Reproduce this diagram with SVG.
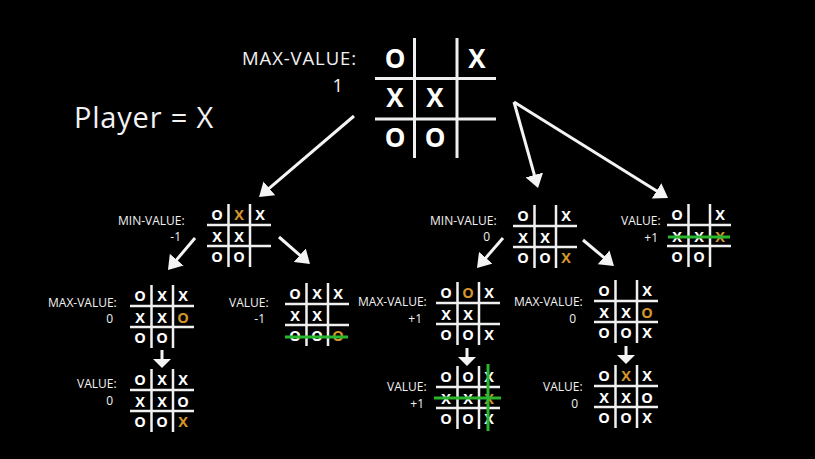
<svg xmlns="http://www.w3.org/2000/svg" xmlns:xlink="http://www.w3.org/1999/xlink" width="815" height="459" viewBox="0 0 815 459">
<style>
  .lbl { font-family: "Open Sans", "Noto Sans", sans-serif; fill: #f2f2f2; font-size: 12px; }
  .lbl-big { font-family: "Open Sans", "Noto Sans", sans-serif; fill: #f2f2f2; font-size: 18.5px; letter-spacing: 0.9px; }
  .title { font-family: "Open Sans", "Noto Sans", sans-serif; fill: #f2f2f2; font-size: 29px; letter-spacing: 0.8px; }
  .num { text-anchor: end; }
  .g { font-family: "Open Sans", "Noto Sans", sans-serif; font-weight: bold; fill: #ffffff; font-size: 14.5px; text-anchor: middle; }
  .gl { font-family: "Open Sans", "Noto Sans", sans-serif; font-weight: bold; fill: #ffffff; font-size: 26px; text-anchor: middle; }
  .hot { fill: #d4952b; }
  .gridline { stroke: #f0f0f0; stroke-width: 2.5; fill: none; }
  .gridline-l { stroke: #f0f0f0; stroke-width: 3; fill: none; }
  .win { stroke: #2ab52e; stroke-width: 3; fill: none; }
  .arrow { stroke: #f4f4f4; stroke-width: 3; fill: none; marker-end: url(#head); }
  .arrow-d { stroke: #f4f4f4; stroke-width: 3; fill: none; marker-end: url(#headd); }
</style>
<defs>
  <marker id="head" viewBox="0 0 4.5 6" markerWidth="4.5" markerHeight="6" refX="1.5" refY="3" orient="auto" markerUnits="strokeWidth">
    <path d="M0,0 L4.5,3 L0,6 z" fill="#f4f4f4"/>
  </marker>
  <marker id="headd" viewBox="0 0 3 6" markerWidth="3" markerHeight="6" refX="1" refY="3" orient="auto" markerUnits="strokeWidth">
    <path d="M0,0 L3,3 L0,6 z" fill="#f4f4f4"/>
  </marker>
  <g id="grid-s">
    <line class="gridline" x1="21.5" y1="0" x2="21.5" y2="63"/>
    <line class="gridline" x1="43" y1="0" x2="43" y2="63"/>
    <line class="gridline" x1="0" y1="21" x2="64" y2="21"/>
    <line class="gridline" x1="0" y1="42" x2="64" y2="42"/>
  </g>
  <g id="grid-l">
    <line class="gridline-l" x1="39.5" y1="0" x2="39.5" y2="120"/>
    <line class="gridline-l" x1="82" y1="0" x2="82" y2="120"/>
    <line class="gridline-l" x1="0" y1="40.5" x2="121" y2="40.5"/>
    <line class="gridline-l" x1="0" y1="81" x2="121" y2="81"/>
  </g>
</defs>
<rect x="0" y="0" width="815" height="459" fill="#000000"/>

<text id="player" class="title" x="74" y="128">Player = X</text>

<g id="connectors">
  <line class="arrow" x1="354" y1="116" x2="265.9" y2="191.2"/>
  <line class="arrow" x1="514" y1="102" x2="535.6" y2="179.3"/>
  <line class="arrow" x1="514" y1="102" x2="660.4" y2="193.2"/>
  <line class="arrow" x1="195" y1="238" x2="173.8" y2="263.1"/>
  <line class="arrow" x1="279" y1="237" x2="303.2" y2="258.1"/>
  <line class="arrow" x1="503" y1="238" x2="482.9" y2="261.2"/>
  <line class="arrow" x1="583" y1="240" x2="607.1" y2="260.2"/>
  <line class="arrow-d" x1="162" y1="350" x2="162" y2="362"/>
  <line class="arrow-d" x1="467" y1="348" x2="467" y2="360"/>
  <line class="arrow-d" x1="626" y1="346" x2="626" y2="358"/>
</g>

<g id="root">
  <text class="lbl-big" x="242" y="65">MAX-VALUE:</text>
  <text class="lbl-big num" x="344" y="92">1</text>
  <use xlink:href="#grid-l" x="375" y="38"/>
  <text class="gl" x="395" y="68.3">O</text>
  <text class="gl" x="477" y="68.3">X</text>
  <text class="gl" x="395" y="107.3">X</text>
  <text class="gl" x="435" y="107.3">X</text>
  <text class="gl" x="395" y="147.3">O</text>
  <text class="gl" x="435" y="147.3">O</text>
</g>

<g id="min-left">
  <text class="lbl" x="118" y="224.5">MIN-VALUE:</text>
  <text class="lbl num" x="181" y="241">-1</text>
  <use xlink:href="#grid-s" x="207" y="204"/>
  <text class="g" x="217" y="219.5">O</text>
  <text class="g hot" x="239" y="219.5">X</text>
  <text class="g" x="260" y="219.5">X</text>
  <text class="g" x="217" y="241.5">X</text>
  <text class="g" x="239" y="241.5">X</text>
  <text class="g" x="217" y="262.3">O</text>
  <text class="g" x="239" y="262.3">O</text>
</g>

<g id="max-left-0">
  <text class="lbl" x="48" y="306.5">MAX-VALUE:</text>
  <text class="lbl num" x="113" y="323">0</text>
  <use xlink:href="#grid-s" x="130" y="285"/>
  <text class="g" x="140" y="300.5">O</text>
  <text class="g" x="162" y="300.5">X</text>
  <text class="g" x="183" y="300.5">X</text>
  <text class="g" x="140" y="322.5">X</text>
  <text class="g" x="162" y="322.5">X</text>
  <text class="g hot" x="183" y="322.5">O</text>
  <text class="g" x="140" y="343.3">O</text>
  <text class="g" x="162" y="343.3">O</text>
</g>

<g id="value-left-m1">
  <text class="lbl" x="229" y="306.5">VALUE:</text>
  <text class="lbl num" x="265" y="323">-1</text>
  <use xlink:href="#grid-s" x="285" y="283"/>
  <text class="g" x="295" y="298.5">O</text>
  <text class="g" x="317" y="298.5">X</text>
  <text class="g" x="338" y="298.5">X</text>
  <text class="g" x="295" y="320.5">X</text>
  <text class="g" x="317" y="320.5">X</text>
  <text class="g" x="295" y="341.3">O</text>
  <text class="g" x="317" y="341.3">O</text>
  <text class="g hot" x="338" y="341.3">O</text>
  <line class="win" x1="285" y1="337" x2="348" y2="337"/>
</g>

<g id="value-left-0">
  <text class="lbl" x="77" y="388">VALUE:</text>
  <text class="lbl num" x="113" y="405">0</text>
  <use xlink:href="#grid-s" x="130" y="369"/>
  <text class="g" x="140" y="384.5">O</text>
  <text class="g" x="162" y="384.5">X</text>
  <text class="g" x="183" y="384.5">X</text>
  <text class="g" x="140" y="406.5">X</text>
  <text class="g" x="162" y="406.5">X</text>
  <text class="g" x="183" y="406.5">O</text>
  <text class="g" x="140" y="427.3">O</text>
  <text class="g" x="162" y="427.3">O</text>
  <text class="g hot" x="183" y="427.3">X</text>
</g>

<g id="min-mid">
  <text class="lbl" x="430" y="224.5">MIN-VALUE:</text>
  <text class="lbl num" x="490" y="241">0</text>
  <use xlink:href="#grid-s" x="513" y="205"/>
  <text class="g" x="523" y="220.5">O</text>
  <text class="g" x="566" y="220.5">X</text>
  <text class="g" x="523" y="242.5">X</text>
  <text class="g" x="545" y="242.5">X</text>
  <text class="g" x="523" y="263.3">O</text>
  <text class="g" x="545" y="263.3">O</text>
  <text class="g hot" x="566" y="263.3">X</text>
</g>

<g id="value-right-p1">
  <text class="lbl" x="621" y="225">VALUE:</text>
  <text class="lbl num" x="658" y="242">+1</text>
  <use xlink:href="#grid-s" x="667" y="204"/>
  <text class="g" x="677" y="219.5">O</text>
  <text class="g" x="720" y="219.5">X</text>
  <text class="g" x="677" y="241.5">X</text>
  <text class="g" x="699" y="241.5">X</text>
  <text class="g hot" x="720" y="241.5">X</text>
  <text class="g" x="677" y="262.3">O</text>
  <text class="g" x="699" y="262.3">O</text>
  <line class="win" x1="668" y1="237" x2="730" y2="237"/>
</g>

<g id="max-mid-p1">
  <text class="lbl" x="358" y="306">MAX-VALUE:</text>
  <text class="lbl num" x="422" y="323">+1</text>
  <use xlink:href="#grid-s" x="436" y="282"/>
  <text class="g" x="446" y="297.5">O</text>
  <text class="g hot" x="468" y="297.5">O</text>
  <text class="g" x="489" y="297.5">X</text>
  <text class="g" x="446" y="319.5">X</text>
  <text class="g" x="468" y="319.5">X</text>
  <text class="g" x="446" y="340.3">O</text>
  <text class="g" x="468" y="340.3">O</text>
  <text class="g" x="489" y="340.3">X</text>
</g>

<g id="max-mid-0">
  <text class="lbl" x="514" y="306">MAX-VALUE:</text>
  <text class="lbl num" x="576" y="323">0</text>
  <use xlink:href="#grid-s" x="594" y="280"/>
  <text class="g" x="604" y="295.5">O</text>
  <text class="g" x="647" y="295.5">X</text>
  <text class="g" x="604" y="317.5">X</text>
  <text class="g" x="626" y="317.5">X</text>
  <text class="g hot" x="647" y="317.5">O</text>
  <text class="g" x="604" y="338.3">O</text>
  <text class="g" x="626" y="338.3">O</text>
  <text class="g" x="647" y="338.3">X</text>
</g>

<g id="value-mid-p1">
  <text class="lbl" x="387" y="391">VALUE:</text>
  <text class="lbl num" x="424" y="408">+1</text>
  <use xlink:href="#grid-s" x="436" y="366"/>
  <text class="g" x="446" y="381.5">O</text>
  <text class="g" x="468" y="381.5">O</text>
  <text class="g" x="489" y="381.5">X</text>
  <text class="g" x="446" y="403.5">X</text>
  <text class="g" x="468" y="403.5">X</text>
  <text class="g hot" x="489" y="403.5">X</text>
  <text class="g" x="446" y="424.3">O</text>
  <text class="g" x="468" y="424.3">O</text>
  <text class="g" x="489" y="424.3">X</text>
  <line class="win" x1="434" y1="398" x2="501" y2="398"/>
  <line class="win" x1="488" y1="364" x2="488" y2="431"/>
</g>

<g id="value-right-0">
  <text class="lbl" x="543" y="391">VALUE:</text>
  <text class="lbl num" x="578" y="408">0</text>
  <use xlink:href="#grid-s" x="594" y="365"/>
  <text class="g" x="604" y="380.5">O</text>
  <text class="g hot" x="626" y="380.5">X</text>
  <text class="g" x="647" y="380.5">X</text>
  <text class="g" x="604" y="402.5">X</text>
  <text class="g" x="626" y="402.5">X</text>
  <text class="g" x="647" y="402.5">O</text>
  <text class="g" x="604" y="423.3">O</text>
  <text class="g" x="626" y="423.3">O</text>
  <text class="g" x="647" y="423.3">X</text>
</g>
</svg>
